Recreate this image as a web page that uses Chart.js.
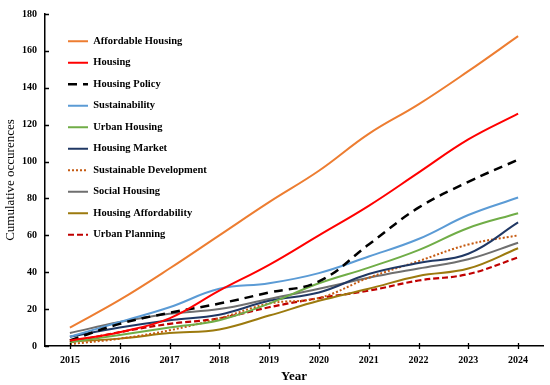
<!DOCTYPE html>
<html>
<head>
<meta charset="utf-8">
<script src="https://cdn.jsdelivr.net/npm/chart.js@4.4.1/dist/chart.umd.min.js"></script>
<style>
    html, body { margin: 0; padding: 0; background: #fff; }
    #wrap { width: 550px; height: 385px; }
</style>
</head>
<body>
<div id="wrap"><canvas id="chartCanvas" width="550" height="385"></canvas></div>
<script>
// Data
const years = ["2015", "2016", "2017", "2018", "2019", "2020", "2021", "2022", "2023", "2024"];
const affordableHousing = [10, 25, 42, 60, 78, 95, 115, 131, 149, 168];
const housing = [3, 7.5, 15, 30, 44, 60, 76, 94, 112, 126];
const housingPolicy = [3, 12, 18, 23, 29, 35, 55, 75, 89, 101];
const sustainability = [5, 13, 21, 31, 34, 39.5, 48.5, 58, 71, 80.5];
const urbanHousing = [2, 6, 10, 14, 23, 34, 42.5, 52, 64, 72];
const housingMarket = [5, 10, 14, 17, 24.5, 29, 39, 45, 50, 67];
const sustainableDevelopment = [1, 4, 8.5, 15, 23, 26, 37, 46, 55, 60];
const socialHousing = [7, 13, 17.5, 20, 25.5, 31, 37, 42, 47, 56];
const housingAffordability = [2.5, 4, 7, 9, 16.5, 24.5, 31, 38, 42, 53];
const urbanPlanning = [2, 7.5, 12, 15, 21, 26, 30, 35.5, 39, 48];

const serif = "'Liberation Serif', 'Times New Roman', serif";

function series(label, data, color, dash, width) {
    return {
        label: label,
        data: data,
        borderColor: color,
        backgroundColor: color,
        borderWidth: width || 2,
        borderDash: dash || [],
        pointRadius: 0,
        pointHoverRadius: 0,
        tension: 0.4,
        fill: false,
    };
}

// small tick marks: inside on the y axis, crossing on the x axis
const tickMarks = {
    id: "tickMarks",
    afterDraw(chart) {
        const ctx = chart.ctx;
        const x = chart.scales.x;
        const y = chart.scales.y;
        const area = chart.chartArea;
        ctx.save();
        ctx.strokeStyle = "#000";
        ctx.lineWidth = 1.3;
        ctx.beginPath();
        y.ticks.forEach((t, i) => {
            const py = Math.round(y.getPixelForTick(i)) + 0.5;
            ctx.moveTo(area.left, py);
            ctx.lineTo(area.left + 4, py);
        });
        x.ticks.forEach((t, i) => {
            const px = Math.round(x.getPixelForTick(i)) + 0.5;
            ctx.moveTo(px, area.bottom - 3);
            ctx.lineTo(px, area.bottom + 3);
        });
        ctx.stroke();
        ctx.restore();
    },
};

// move the legend inside the plot, upper left
const legendInside = {
    id: "legendInside",
    afterLayout(chart) {
        chart.legend.left += 12;
        chart.legend.top += 25;
    },
};

const ctx = document.getElementById("chartCanvas").getContext("2d");
const chart = new Chart(ctx, {
    type: "line",
    data: {
        labels: years,
        datasets: [
            series("Affordable Housing", affordableHousing, "#ED7D31"),
            series("Housing", housing, "#FF0000"),
            series("Housing Policy", housingPolicy, "#000000", [9, 6], 2.5),
            series("Sustainability", sustainability, "#5B9BD5"),
            series("Urban Housing", urbanHousing, "#70AD47"),
            series("Housing Market", housingMarket, "#203864"),
            series("Sustainable Development", sustainableDevelopment, "#C55A11", [2, 2]),
            series("Social Housing", socialHousing, "#6F6F6F"),
            series("Housing Affordability", housingAffordability, "#9C7A0E"),
            series("Urban Planning", urbanPlanning, "#C00000", [6, 3], 2.2),
        ],
    },
    options: {
        responsive: false,
        animation: false,
        layout: {
            padding: { top: 9, right: 7, left: 0, bottom: 0 },
        },
        plugins: {
            legend: {
                display: true,
                position: "chartArea",
                align: "start",
                labels: {
                    usePointStyle: true,
                    pointStyle: "line",
                    pointStyleWidth: 20,
                    boxHeight: 10,
                    padding: 11,
                    color: "#000",
                    font: { family: serif, size: 10.5, weight: "bold" },
                    // point style drops the dash, so put it back from the dataset
                    generateLabels(chart) {
                        const items = Chart.defaults.plugins.legend.labels.generateLabels(chart);
                        items.forEach(item => {
                            const ds = chart.data.datasets[item.datasetIndex];
                            item.lineDash = ds.borderDash;
                            item.lineWidth = ds.borderWidth;
                            item.strokeStyle = ds.borderColor;
                        });
                        return items;
                    },
                },
            },
            tooltip: { enabled: false },
        },
        scales: {
            x: {
                offset: true,
                afterFit(scale) { scale.height = 39; },
                grid: { display: false, drawTicks: false },
                border: { display: true, color: "#000", width: 1.5 },
                ticks: {
                    color: "#000",
                    padding: 8,
                    font: { family: serif, size: 10, weight: "bold" },
                },
                title: {
                    display: true,
                    text: "Year",
                    color: "#000",
                    padding: { top: 0, bottom: 1 },
                    font: { family: serif, size: 13, weight: "bold" },
                },
            },
            y: {
                min: 0,
                max: 180,
                afterFit(scale) { scale.width = 45; },
                grid: { display: false, drawTicks: false },
                border: { display: true, color: "#000", width: 1.5 },
                ticks: {
                    stepSize: 20,
                    color: "#000",
                    padding: 8,
                    font: { family: serif, size: 10, weight: "bold" },
                },
                title: {
                    display: true,
                    text: "Cumulative occurences",
                    color: "#000",
                    padding: { top: 3, bottom: 0 },
                    font: { family: serif, size: 13 },
                },
            },
        },
    },
    plugins: [tickMarks, legendInside],
});
</script>
</body>
</html>
